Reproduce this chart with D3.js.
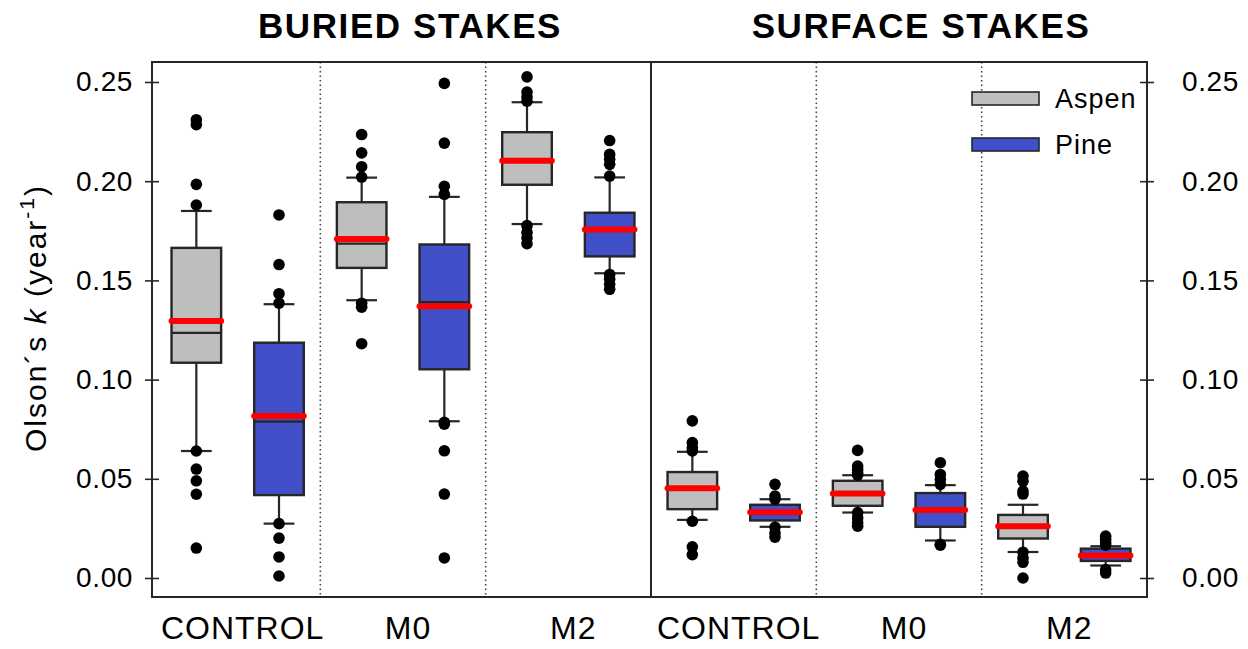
<!DOCTYPE html>
<html>
<head>
<meta charset="utf-8">
<script src="https://cdn.jsdelivr.net/npm/d3@7"></script>
<style>
  body { margin: 0; background: #fff; }
  svg { display: block; font-family: "Liberation Sans", Arial, sans-serif; }
</style>
</head>
<body>
<svg width="1248" height="649"></svg>
<script>
var groups = ["CONTROL", "M0", "M2"];
var species = ["Aspen", "Pine"];
var panels = ["BURIED STAKES", "SURFACE STAKES"];
var yTicks = [0, 0.05, 0.10, 0.15, 0.20, 0.25];

// one row per box: whisker ends, quartiles, median, mean (red), outliers
var buried = [
  { g: "CONTROL", sp: "Aspen", lo: 0.064, q1: 0.1085, med: 0.1235, q3: 0.1664, hi: 0.185, mean: 0.1295,
    out: [0.231, 0.2285, 0.1984, 0.188, 0.064, 0.0549, 0.049, 0.0422, 0.0151] },
  { g: "CONTROL", sp: "Pine", lo: 0.0274, q1: 0.0418, med: 0.0788, q3: 0.1186, hi: 0.138, mean: 0.0816,
    out: [0.183, 0.158, 0.1433, 0.1385, 0.0274, 0.0201, 0.0106, 0.001] },
  { g: "M0", sp: "Aspen", lo: 0.14, q1: 0.1563, med: 0.1685, q3: 0.1894, hi: 0.2018, mean: 0.1709,
    out: [0.2235, 0.2143, 0.2073, 0.2021, 0.1385, 0.1365, 0.1181] },
  { g: "M0", sp: "Pine", lo: 0.079, q1: 0.1052, med: 0.139, q3: 0.1681, hi: 0.1921, mean: 0.137,
    out: [0.2493, 0.2192, 0.1974, 0.1934, 0.0785, 0.0775, 0.0641, 0.0423, 0.0101] },
  { g: "M2", sp: "Aspen", lo: 0.1784, q1: 0.1982, med: 0.2103, q3: 0.2247, hi: 0.2398, mean: 0.2103,
    out: [0.2526, 0.2449, 0.2425, 0.2403, 0.1776, 0.1742, 0.1714, 0.1685] },
  { g: "M2", sp: "Pine", lo: 0.1536, q1: 0.1621, med: 0.1757, q3: 0.1841, hi: 0.2019, mean: 0.1757,
    out: [0.2205, 0.2135, 0.211, 0.2085, 0.2026, 0.153, 0.1506, 0.148, 0.1455] }
];

var surface = [
  { g: "CONTROL", sp: "Aspen", lo: 0.0293, q1: 0.0347, med: 0.0452, q3: 0.0534, hi: 0.0636, mean: 0.0452,
    out: [0.0792, 0.0683, 0.0657, 0.064, 0.0286, 0.0157, 0.0118] },
  { g: "CONTROL", sp: "Pine", lo: 0.0258, q1: 0.029, med: 0.0332, q3: 0.0369, hi: 0.0397, mean: 0.0332,
    out: [0.0472, 0.0413, 0.0397, 0.0256, 0.0227, 0.0206] },
  { g: "M0", sp: "Aspen", lo: 0.033, q1: 0.0364, med: 0.0426, q3: 0.049, hi: 0.0518, mean: 0.0426,
    out: [0.0643, 0.0564, 0.0547, 0.053, 0.0519, 0.033, 0.0303, 0.0279, 0.0261] },
  { g: "M0", sp: "Pine", lo: 0.0189, q1: 0.0258, med: 0.0343, q3: 0.0428, hi: 0.0468, mean: 0.0343,
    out: [0.0581, 0.0522, 0.0497, 0.0472, 0.017, 0.0165] },
  { g: "M2", sp: "Aspen", lo: 0.0131, q1: 0.0199, med: 0.0261, q3: 0.0318, hi: 0.0369, mean: 0.0261,
    out: [0.0514, 0.0488, 0.0438, 0.0423, 0.013, 0.0101, 0.0079, 0.0] },
  { g: "M2", sp: "Pine", lo: 0.0063, q1: 0.0086, med: 0.0113, q3: 0.0148, hi: 0.016, mean: 0.0113,
    out: [0.0211, 0.0195, 0.0178, 0.0165, 0.0042, 0.0025] }
];

var svg = d3.select("svg");
var L = 152, R = 1147, T = 62, B = 597, MID = 651;
var ink = "#262626";

var y = d3.scaleLinear().domain([-0.00958, 0.26008]).range([B, T]);
var fill = d3.scaleOrdinal().domain(species).range(["#bebebe", "#4150c8"]);

function drawPanel(rows, x0, x1, title, titleX) {
  var keys = [];
  groups.forEach(g => species.forEach(s => keys.push(g + "|" + s)));
  var x = d3.scaleBand().domain(keys).range([x0, x1]).padding(0);
  var bw = x.bandwidth() * 0.6, cap = bw * 0.62;
  var cx = d => x(d.g + "|" + d.sp) + x.bandwidth() / 2;
  var g = svg.append("g");

  // dotted lines between treatment groups
  g.selectAll("line.sep").data(groups.slice(1)).enter().append("line")
    .attr("x1", d => x(d + "|Aspen")).attr("x2", d => x(d + "|Aspen"))
    .attr("y1", T).attr("y2", B)
    .attr("stroke", "#444").attr("stroke-width", 1.6).attr("stroke-dasharray", "1.5,3");

  var box = g.selectAll("g.box").data(rows).enter().append("g");

  // whiskers + staples
  box.append("line").attr("x1", cx).attr("x2", cx)
    .attr("y1", d => y(d.hi)).attr("y2", d => y(d.q3))
    .attr("stroke", ink).attr("stroke-width", 2.2);
  box.append("line").attr("x1", cx).attr("x2", cx)
    .attr("y1", d => y(d.q1)).attr("y2", d => y(d.lo))
    .attr("stroke", ink).attr("stroke-width", 2.2);
  ["hi", "lo"].forEach(k => {
    box.append("line").attr("x1", d => cx(d) - cap / 2).attr("x2", d => cx(d) + cap / 2)
      .attr("y1", d => y(d[k])).attr("y2", d => y(d[k]))
      .attr("stroke", ink).attr("stroke-width", 2.2);
  });

  box.append("rect")
    .attr("x", d => cx(d) - bw / 2).attr("width", bw)
    .attr("y", d => y(d.q3)).attr("height", d => y(d.q1) - y(d.q3))
    .attr("fill", d => fill(d.sp)).attr("stroke", ink).attr("stroke-width", 2.4);

  box.append("line").attr("x1", d => cx(d) - bw / 2).attr("x2", d => cx(d) + bw / 2)
    .attr("y1", d => y(d.med)).attr("y2", d => y(d.med))
    .attr("stroke", ink).attr("stroke-width", 2.2);

  box.append("line").attr("x1", d => cx(d) - bw / 2).attr("x2", d => cx(d) + bw / 2)
    .attr("y1", d => y(d.mean)).attr("y2", d => y(d.mean))
    .attr("stroke", "#ff0000").attr("stroke-width", 6).attr("stroke-linecap", "round");

  box.selectAll("circle").data(d => d.out.map(v => ({ v: v, x: cx(d) }))).enter()
    .append("circle")
    .attr("cx", d => d.x).attr("cy", d => y(d.v)).attr("r", 5.8).attr("fill", "#000");

  // group labels under the axis
  svg.selectAll(null).data(groups).enter().append("text")
    .attr("x", d => (x(d + "|Aspen") + x(d + "|Pine") + x.bandwidth()) / 2 + 5)
    .attr("y", 639).attr("text-anchor", "middle")
    .attr("font-size", 32).attr("letter-spacing", 1).attr("fill", "#000")
    .text(d => d);

  svg.append("text").attr("x", titleX).attr("y", 38).attr("text-anchor", "middle")
    .attr("font-size", 35).attr("font-weight", "bold").attr("letter-spacing", 1.6)
    .text(title);
}

drawPanel(buried, 155, MID, panels[0], 410);
drawPanel(surface, MID, R, panels[1], 921);

// frame and middle divider
svg.append("rect").attr("x", L).attr("y", T).attr("width", R - L).attr("height", B - T)
  .attr("fill", "none").attr("stroke", ink).attr("stroke-width", 2);
svg.append("line").attr("x1", MID).attr("x2", MID).attr("y1", T).attr("y2", B)
  .attr("stroke", ink).attr("stroke-width", 2);

// axes on both sides
function styleAxis(sel) {
  sel.select(".domain").remove();
  sel.selectAll(".tick line").attr("stroke", ink).attr("stroke-width", 1.6);
  sel.selectAll(".tick text").attr("font-size", 28).attr("letter-spacing", 0.6)
    .attr("fill", "#000").attr("font-family", "Liberation Sans, Arial, sans-serif");
}
var fmt = d3.format(".2f");
svg.append("g").attr("transform", "translate(" + L + ",0)")
  .call(d3.axisLeft(y).tickValues(yTicks).tickFormat(fmt).tickSize(7).tickPadding(12))
  .call(styleAxis)
  .selectAll(".tick line").attr("x1", 7);
svg.append("g").attr("transform", "translate(" + R + ",0)")
  .call(d3.axisRight(y).tickValues(yTicks).tickFormat(fmt).tickSize(7).tickPadding(28))
  .call(styleAxis)
  .selectAll(".tick line").attr("x1", -7);

// y title
var yt = svg.append("text").attr("transform", "translate(46,318) rotate(-90)")
  .attr("text-anchor", "middle").attr("font-size", 30).attr("letter-spacing", 2).attr("fill", "#000");
yt.append("tspan").text("Olson\u00b4s ");
yt.append("tspan").attr("font-style", "italic").text("k");
yt.append("tspan").text(" (year");
yt.append("tspan").attr("dy", -12).attr("font-size", 21).text("-1");
yt.append("tspan").attr("dy", 12).text(")");

// legend
var leg = svg.append("g").selectAll("g").data(species).enter().append("g")
  .attr("transform", (d, i) => "translate(972," + (98.5 + i * 46) + ")");
leg.append("rect").attr("x", 0).attr("y", -6.5).attr("width", 67).attr("height", 13)
  .attr("fill", d => fill(d)).attr("stroke", ink).attr("stroke-width", 1.6);
leg.append("text").attr("x", 83).attr("y", 9.5).attr("font-size", 27).attr("letter-spacing", 1)
  .attr("fill", "#000").text(d => d);
</script>
</body>
</html>
